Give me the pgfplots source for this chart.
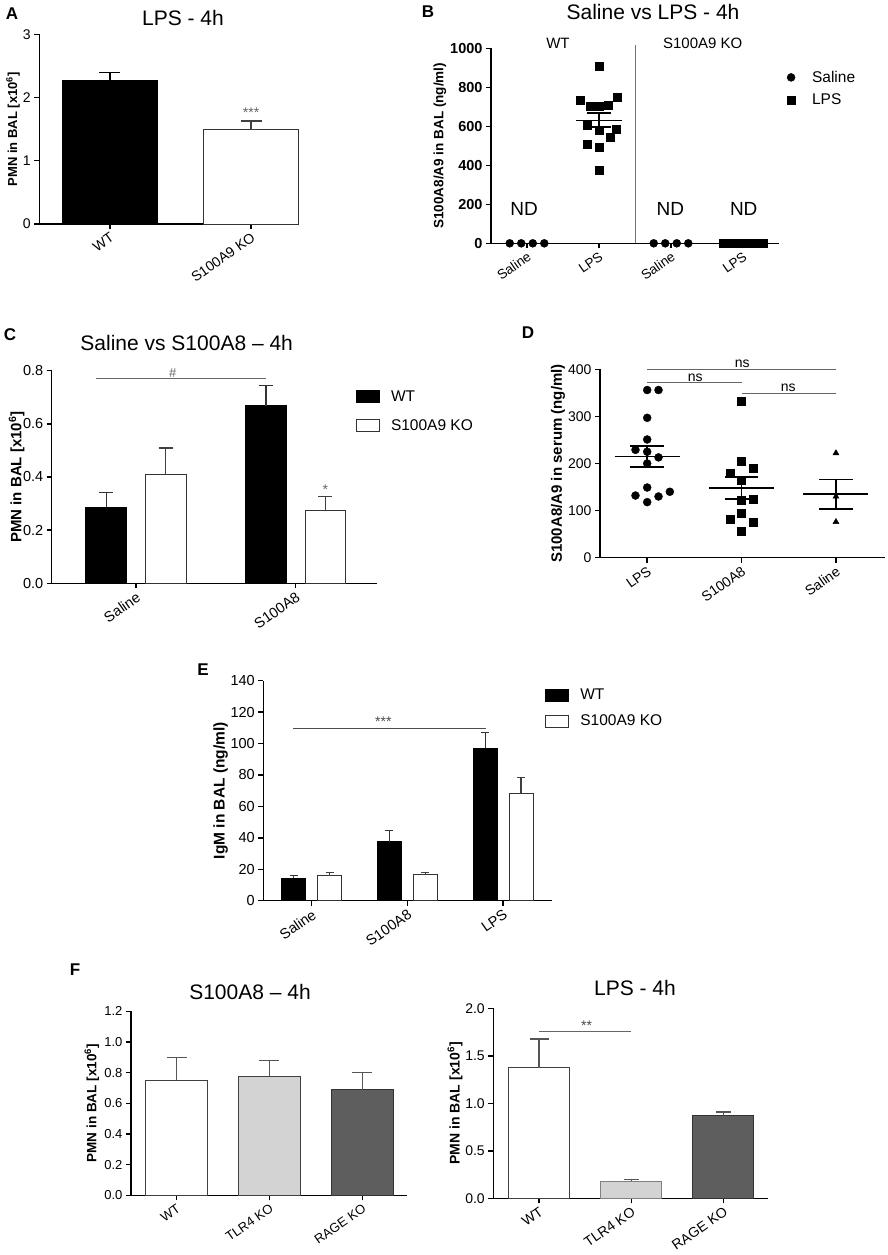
\documentclass[border=0pt]{standalone}
\usepackage{fontspec}
\setmainfont{Liberation Sans}
\usepackage{pgfplots}
\pgfplotsset{compat=1.18}
\newcommand{\fs}[1]{\fontsize{#1}{#1}\selectfont}
\definecolor{lgray}{HTML}{D3D3D3}
\definecolor{dgray}{HTML}{5E5E5E}
\definecolor{egray}{HTML}{555555}

\pgfplotsset{
  panel/.style={scale only axis, anchor=south west, axis lines=left,
    axis line style={-, line width=1.4pt, black},
    tick style={line width=1.4pt, black},
    tick align=outside, major tick length=5pt, clip=false,
    /pgf/number format/assume math mode=true,
    /pgf/number format/1000 sep={},
    xticklabel style={rotate=35, anchor=north east, inner sep=2pt},
    ylabel style={anchor=center}},
  mybar/.style={ybar, bar shift=0pt, line width=1pt,
    legend image code/.code={\draw[##1, line width=1pt] (0pt,-6pt) rectangle (23pt,6pt);
      \path[draw=none, fill=none] (0pt,0pt) (33pt,0pt);}},
  dotleg/.style={legend image code/.code={\draw[##1] plot coordinates {(0pt,0pt)};
      \path[draw=none, fill=none] (-4pt,0pt) (19pt,0pt);}},
  eb/.style 2 args={error bars/.cd, y dir=plus, y explicit,
    error bar style={line width=1.2pt, #1},
    error mark options={rotate=90, line width=1.2pt, #1, mark size=#2}},
  onedec/.style={yticklabel style={/pgf/number format/.cd, fixed, fixed zerofill, precision=1}},
}

\begin{document}
\begin{tikzpicture}
\path[use as bounding box, fill=white] (0pt,0pt) rectangle (887pt,-1255pt);

%%%%%%%%%%%%%%%%%%%%
% A  LPS - 4h
%%%%%%%%%%%%%%%%%%%%
\begin{axis}[panel, at={(39.3pt,-224pt)}, width=259.7pt, height=189.7pt,
  xmin=-0.501, xmax=1.34, ymin=0, ymax=3,
  xtick={0,1}, xticklabels={WT,S100A9 KO}, ytick={0,1,2,3},
  tick label style={font=\fs{14}},
  ylabel={PMN in BAL [x10\textsuperscript{6}]},
  ylabel style={at={(axis description cs:-0.101,0.5)}, font=\fs{13}\bfseries}]
\addplot[mybar, bar width=0.674, fill=black, draw=black, eb={black}{10.5pt}]
  coordinates {(0,2.27) +- (0,0.12)};
\addplot[mybar, bar width=0.674, fill=white, draw=black!80, eb={black!75}{10.5pt}]
  coordinates {(1,1.49) +- (0,0.14)};
\node[anchor=south, font=\fs{14}, black!60, inner sep=1pt] at (axis cs:1,1.66) {***};
\end{axis}
\node[font=\fs{17}\bfseries] at (12pt,-14pt) {A};
\node[font=\fs{21}] at (183pt,-18pt) {LPS - 4h};

%%%%%%%%%%%%%%%%%%%%
% B  Saline vs LPS - 4h
%%%%%%%%%%%%%%%%%%%%
\begin{axis}[panel, at={(491pt,-243.3pt)}, width=288pt, height=195pt,
  xmin=-0.5, xmax=3.5, ymin=0, ymax=1000,
  xtick={0,1,2,3}, xticklabels={Saline,LPS,Saline,LPS},
  ytick={0,200,400,600,800,1000},
  xticklabel style={font=\fs{13.5}},
  yticklabel style={font=\fs{14.5}\bfseries},
  ylabel={S100A8/A9 in BAL (ng/ml)},
  ylabel style={at={(axis description cs:-0.177,0.5)}, font=\fs{13.5}\bfseries},
  legend style={draw=none, fill=none, at={(axis description cs:1.017,0.905)}, anchor=north west,
    font=\fs{15.5}, row sep=6pt, legend cell align=left}]
\addplot[only marks, mark=*, mark size=4pt, black, dotleg] coordinates {
  (-0.24,0) (-0.08,0) (0.08,0) (0.24,0)
  (1.76,0) (1.92,0) (2.08,0) (2.24,0)};
\addlegendentry{Saline}
\addplot[only marks, mark=square*, mark size=4pt, black, dotleg] coordinates {
  (1,906) (0.74,732) (1.25,749) (0.875,701) (1,701) (1.13,708)
  (0.84,607) (1,581) (1.24,585) (1.15,544) (0.84,509) (1,491) (1,376)
  (2.72,0) (2.8,0) (2.88,0) (2.96,0) (3.04,0) (3.12,0) (3.2,0) (3.28,0)};
\addlegendentry{LPS}
% mean and SEM, WT LPS
\addplot[black, line width=1.8pt, forget plot] coordinates {(0.68,630) (1.32,630)};
\addplot[black, line width=1.8pt, forget plot] coordinates {(0.84,667) (1.16,667)};
\addplot[black, line width=1.8pt, forget plot] coordinates {(0.84,595) (1.16,595)};
\addplot[black, line width=1.8pt, forget plot] coordinates {(1,595) (1,667)};
\draw[black!55, line width=0.8pt] (axis cs:1.5,0) -- (axis cs:1.5,1017);
\node[font=\fs{15}] at (axis cs:0.43,1027) {WT};
\node[font=\fs{15}] at (axis cs:2.44,1027) {S100A9 KO};
\node[font=\fs{19}] at (axis cs:-0.04,174) {ND};
\node[font=\fs{19}] at (axis cs:1.99,174) {ND};
\node[font=\fs{19}] at (axis cs:3.01,174) {ND};
\end{axis}
\node[font=\fs{17}\bfseries] at (428pt,-12pt) {B};
\node[font=\fs{21}] at (653pt,-12pt) {Saline vs LPS - 4h};

%%%%%%%%%%%%%%%%%%%%
% C  Saline vs S100A8 - 4h
%%%%%%%%%%%%%%%%%%%%
\begin{axis}[panel, onedec, at={(51.7pt,-583.3pt)}, width=325pt, height=212.6pt,
  xmin=-0.528, xmax=1.507, ymin=0, ymax=0.8,
  xtick={0,1}, xticklabels={Saline,S100A8}, ytick={0,0.2,0.4,0.6,0.8},
  tick label style={font=\fs{14.5}},
  ylabel={PMN in BAL [x10\textsuperscript{6}]},
  ylabel style={at={(axis description cs:-0.108,0.5)}, font=\fs{15}\bfseries},
  legend style={draw=none, fill=none, at={(axis description cs:0.925,0.927)}, anchor=north west,
    font=\fs{15.5}, row sep=13pt, legend cell align=left}]
\addplot[mybar, bar width=0.255, fill=black, draw=black, eb={black!80}{7pt}]
  coordinates {(-0.186,0.286) +- (0,0.056) (0.814,0.668) +- (0,0.077)};
\addlegendentry{WT}
\addplot[mybar, bar width=0.255, fill=white, draw=black!80, eb={black!75}{7pt}]
  coordinates {(0.186,0.411) +- (0,0.098) (1.186,0.273) +- (0,0.053)};
\addlegendentry{S100A9 KO}
\draw[black!60, line width=0.8pt] (axis cs:-0.252,0.771) -- (axis cs:0.812,0.771);
\node[anchor=south, font=\fs{13}, black!60, inner sep=1pt] at (axis cs:0.23,0.771) {\#};
\node[anchor=south, font=\fs{14}, black!60, inner sep=1pt] at (axis cs:1.186,0.33) {*};
\end{axis}
\node[font=\fs{17}\bfseries] at (10pt,-335pt) {C};
\node[font=\fs{21}] at (186.7pt,-343.3pt) {Saline vs S100A8 – 4h};

%%%%%%%%%%%%%%%%%%%%
% D  serum
%%%%%%%%%%%%%%%%%%%%
\begin{axis}[panel, at={(600pt,-557.7pt)}, width=285pt, height=188.4pt,
  xmin=-0.5, xmax=2.52, ymin=0, ymax=400,
  xtick={0,1,2}, xticklabels={LPS,S100A8,Saline}, ytick={0,100,200,300,400},
  tick label style={font=\fs{14}},
  ylabel={S100A8/A9 in serum (ng/ml)},
  ylabel style={at={(axis description cs:-0.147,0.5)}, font=\fs{15}\bfseries}]
\addplot[only marks, mark=*, mark size=4pt, black] coordinates {
  (0,356) (0.12,356) (0,297) (0,251) (-0.124,229) (0,225) (0.12,213) (0,200)
  (0,149) (-0.124,132) (0,118) (0.12,130) (0.24,140)};
\addplot[only marks, mark=square*, mark size=4pt, black] coordinates {
  (1,333) (1,204) (1.12,191) (0.883,179) (1,164) (1,122) (1.12,125)
  (1,94) (0.883,81) (1.12,76) (1,57)};
\addplot[only marks, mark=triangle*, mark size=3.5pt, black] coordinates {
  (2,222) (2,130) (2,76)};
% means and SEM
\addplot[black, line width=1.8pt] coordinates {(-0.345,215) (0.345,215)};
\addplot[black, line width=1.8pt] coordinates {(-0.177,238) (0.177,238)};
\addplot[black, line width=1.8pt] coordinates {(-0.177,192) (0.177,192)};
\addplot[black, line width=1.8pt] coordinates {(0,192) (0,238)};
\addplot[black, line width=1.8pt] coordinates {(0.655,148) (1.345,148)};
\addplot[black, line width=1.8pt] coordinates {(0.823,172) (1.177,172)};
\addplot[black, line width=1.8pt] coordinates {(0.823,124) (1.177,124)};
\addplot[black, line width=1.8pt] coordinates {(1,124) (1,172)};
\addplot[black, line width=1.8pt] coordinates {(1.655,135) (2.345,135)};
\addplot[black, line width=1.8pt] coordinates {(1.823,166) (2.177,166)};
\addplot[black, line width=1.8pt] coordinates {(1.823,103) (2.177,103)};
\addplot[black, line width=1.8pt] coordinates {(2,103) (2,166)};
\draw[black!60, line width=0.8pt] (axis cs:0,400) -- (axis cs:2,400);
\draw[black!60, line width=0.8pt] (axis cs:0,372) -- (axis cs:1,372);
\draw[black!60, line width=0.8pt] (axis cs:1.007,349) -- (axis cs:2,349);
\node[anchor=south, font=\fs{14}, inner sep=1pt] at (axis cs:1.007,400) {ns};
\node[anchor=south, font=\fs{14}, inner sep=1pt] at (axis cs:0.51,372) {ns};
\node[anchor=south, font=\fs{14}, inner sep=1pt] at (axis cs:1.495,349) {ns};
\end{axis}
\node[font=\fs{17}\bfseries] at (528pt,-333pt) {D};

%%%%%%%%%%%%%%%%%%%%
% E  IgM
%%%%%%%%%%%%%%%%%%%%
\begin{axis}[panel, at={(263.3pt,-900.7pt)}, width=288.4pt, height=220pt,
  xmin=-0.506, xmax=2.508, ymin=0, ymax=140,
  xtick={0,1,2}, xticklabels={Saline,S100A8,LPS}, ytick={0,20,40,60,80,100,120,140},
  tick label style={font=\fs{14.5}},
  ylabel={IgM in BAL (ng/ml)},
  ylabel style={at={(axis description cs:-0.148,0.5)}, font=\fs{15.5}\bfseries},
  legend style={draw=none, fill=none, at={(axis description cs:0.965,0.98)}, anchor=north west,
    font=\fs{15.5}, row sep=9.5pt, legend cell align=left}]
\addplot[mybar, bar width=0.25, fill=black, draw=black, eb={black!80}{4pt}]
  coordinates {(-0.188,14.4) +- (0,1.5) (0.812,37.5) +- (0,7) (1.812,96.9) +- (0,10.2)};
\addlegendentry{WT}
\addplot[mybar, bar width=0.25, fill=white, draw=black!80, eb={black!75}{4pt}]
  coordinates {(0.188,15.9) +- (0,1.9) (1.188,16.8) +- (0,1.4) (2.188,68.3) +- (0,10.2)};
\addlegendentry{S100A9 KO}
\draw[black!70, line width=0.9pt] (axis cs:-0.192,109.9) -- (axis cs:1.821,109.9);
\node[anchor=south, font=\fs{14}, black!70, inner sep=1pt] at (axis cs:0.748,109.9) {***};
\end{axis}
\node[font=\fs{17}\bfseries] at (203pt,-670pt) {E};

%%%%%%%%%%%%%%%%%%%%
% F  S100A8 - 4h
%%%%%%%%%%%%%%%%%%%%
\begin{axis}[panel, onedec, at={(131pt,-1195.3pt)}, width=276.3pt, height=184pt,
  xmin=-0.49, xmax=2.485, ymin=0, ymax=1.2,
  xtick={0,1,2}, xticklabels={WT,TLR4 KO,RAGE KO}, ytick={0,0.2,0.4,0.6,0.8,1.0,1.2},
  tick label style={font=\fs{13}},
  ylabel={PMN in BAL [x10\textsuperscript{6}]},
  ylabel style={at={(axis description cs:-0.142,0.5)}, font=\fs{13.5}\bfseries}]
\addplot[mybar, bar width=0.668, fill=white, draw=black!75, eb={egray}{10pt}]
  coordinates {(0,0.752) +- (0,0.146)};
\addplot[mybar, bar width=0.668, fill=lgray, draw=black!75, eb={egray}{10pt}]
  coordinates {(1,0.778) +- (0,0.102)};
\addplot[mybar, bar width=0.668, fill=dgray, draw=black!80, eb={egray}{10pt}]
  coordinates {(2,0.689) +- (0,0.111)};
\end{axis}
\node[font=\fs{17}\bfseries] at (75pt,-970pt) {F};
\node[font=\fs{21}] at (250pt,-991.7pt) {S100A8 – 4h};

%%%%%%%%%%%%%%%%%%%%
% F  LPS - 4h
%%%%%%%%%%%%%%%%%%%%
\begin{axis}[panel, onedec, at={(493.3pt,-1198.3pt)}, width=275pt, height=190pt,
  xmin=-0.496, xmax=2.487, ymin=0, ymax=2,
  xtick={0,1,2}, xticklabels={WT,TLR4 KO,RAGE KO}, ytick={0,0.5,1,1.5,2},
  tick label style={font=\fs{14}},
  ylabel={PMN in BAL [x10\textsuperscript{6}]},
  ylabel style={at={(axis description cs:-0.139,0.5)}, font=\fs{14}\bfseries}]
\addplot[mybar, bar width=0.66, fill=white, draw=black!75, eb={egray}{9.5pt}]
  coordinates {(0,1.372) +- (0,0.305)};
\addplot[mybar, bar width=0.66, fill=lgray, draw=black!50, eb={egray}{7.5pt}]
  coordinates {(1,0.179) +- (0,0.017)};
\addplot[mybar, bar width=0.66, fill=dgray, draw=black!80, eb={egray}{7.5pt}]
  coordinates {(2,0.870) +- (0,0.039)};
\draw[black!60, line width=0.8pt] (axis cs:0,1.754) -- (axis cs:1,1.754);
\node[anchor=south, font=\fs{14}, black!70, inner sep=1pt] at (axis cs:0.517,1.754) {**};
\end{axis}
\node[font=\fs{21}] at (635pt,-988.3pt) {LPS - 4h};

\end{tikzpicture}
\end{document}
